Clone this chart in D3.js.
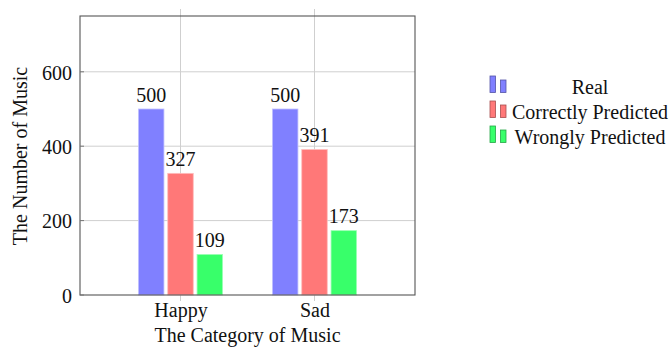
<!DOCTYPE html>
<html><head><meta charset="utf-8">
<script src="https://cdn.jsdelivr.net/npm/d3@7"></script>
<style>
html,body{margin:0;padding:0;background:#fff;}
text{font-family:"Liberation Serif","Times New Roman",serif;fill:#111;}
</style></head>
<body><svg id="c" width="672" height="347"></svg>
<script>
const categories = ["Happy", "Sad"];
const seriesNames = ["Real", "Correctly Predicted", "Wrongly Predicted"];
const realValues = [500, 500];
const correctValues = [327, 391];
const wrongValues = [109, 173];
const yTicks = [0, 200, 400, 600];
const colors = ["#8080ff", "#ff7878", "#38ff6a"];

const seriesValues = [realValues, correctValues, wrongValues];
const svg = d3.select("#c");
const L = 80, R = 415, T = 16, B = 295;

const x = d3.scaleLinear().domain([-0.75, categories.length - 0.25]).range([L, R]);
const y = d3.scaleLinear().domain([0, 750]).range([B, T]);
const inner = d3.scaleBand().domain(seriesNames).range([-43.95, 43.95]).paddingInner(0.13).paddingOuter(0.065);

// grid
const g = svg.append("g");
g.selectAll(".hg").data(yTicks.slice(1)).join("line")
  .attr("x1", L).attr("x2", R).attr("y1", d => y(d)).attr("y2", d => y(d))
  .attr("stroke", "#cfcfcf").attr("stroke-width", 1);
g.selectAll(".vg").data(categories).join("line")
  .attr("x1", (d,i) => x(i)).attr("x2", (d,i) => x(i)).attr("y1", T - 7).attr("y2", B + 6)
  .attr("stroke", "#cfcfcf").attr("stroke-width", 1);

// bars
seriesNames.forEach((s, si) => {
  svg.append("g").selectAll("rect").data(seriesValues[si]).join("rect")
    .attr("x", (d,i) => x(i) + inner(s))
    .attr("width", inner.bandwidth())
    .attr("y", d => y(d))
    .attr("height", d => B - y(d))
    .attr("fill", colors[si])
    .attr("stroke", d3.interpolateRgb(colors[si], "#fff")(0.5))
    .attr("stroke-width", 0.8);
  svg.append("g").selectAll("text").data(seriesValues[si]).join("text")
    .attr("x", (d,i) => x(i) + inner(s) + inner.bandwidth()/2)
    .attr("y", d => y(d) - 7.5)
    .attr("text-anchor", "middle")
    .attr("font-size", 20)
    .text(d => d);
});

// axis box
svg.append("rect").attr("x", L).attr("y", T).attr("width", R - L).attr("height", B - T)
  .attr("fill", "none").attr("stroke", "#555").attr("stroke-width", 1.1);

// y ticks
const ya = d3.axisLeft(y).tickValues(yTicks).tickSize(0).tickPadding(8);
const yg = svg.append("g").attr("transform", `translate(${L},0)`).call(ya);
yg.select(".domain").remove();
yg.selectAll("text").attr("font-size", 20).attr("font-family", "Liberation Serif").attr("fill", "#111").attr("dy", "0.36em");
svg.selectAll(".ytk").data(yTicks).join("line")
  .attr("x1", L).attr("x2", L + 4).attr("y1", d => y(d)).attr("y2", d => y(d))
  .attr("stroke", "#777");

// x ticks
const xa = d3.axisBottom(x).tickValues(d3.range(categories.length)).tickFormat(i => categories[i]).tickSize(0).tickPadding(7);
const xg = svg.append("g").attr("transform", `translate(0,${B})`).call(xa);
xg.select(".domain").remove();
xg.selectAll("text").attr("font-size", 20).attr("font-family", "Liberation Serif").attr("fill", "#111").attr("dy", "0.76em");

// titles
svg.append("text").attr("x", (L + R) / 2).attr("y", 342).attr("text-anchor", "middle").attr("font-size", 20).text("The Category of Music");
svg.append("text").attr("transform", "translate(27,156) rotate(-90)").attr("text-anchor", "middle").attr("font-size", 20).text("The Number of Music");

// legend
const lg = svg.append("g");
seriesNames.forEach((s, i) => {
  const by = 92.5 + i * 25;
  lg.append("rect").attr("x", 490).attr("y", by - 16.5).attr("width", 5.5).attr("height", 16.5)
    .attr("fill", colors[i]).attr("stroke", d3.color(colors[i]).darker(1.2)).attr("stroke-width", 0.8);
  lg.append("rect").attr("x", 500.5).attr("y", by - 12.5).attr("width", 5.5).attr("height", 12.5)
    .attr("fill", colors[i]).attr("stroke", d3.color(colors[i]).darker(1.2)).attr("stroke-width", 0.8);
  lg.append("text").attr("x", 590).attr("y", by + 1.5).attr("text-anchor", "middle").attr("font-size", 20).text(s);
});
</script></body></html>
